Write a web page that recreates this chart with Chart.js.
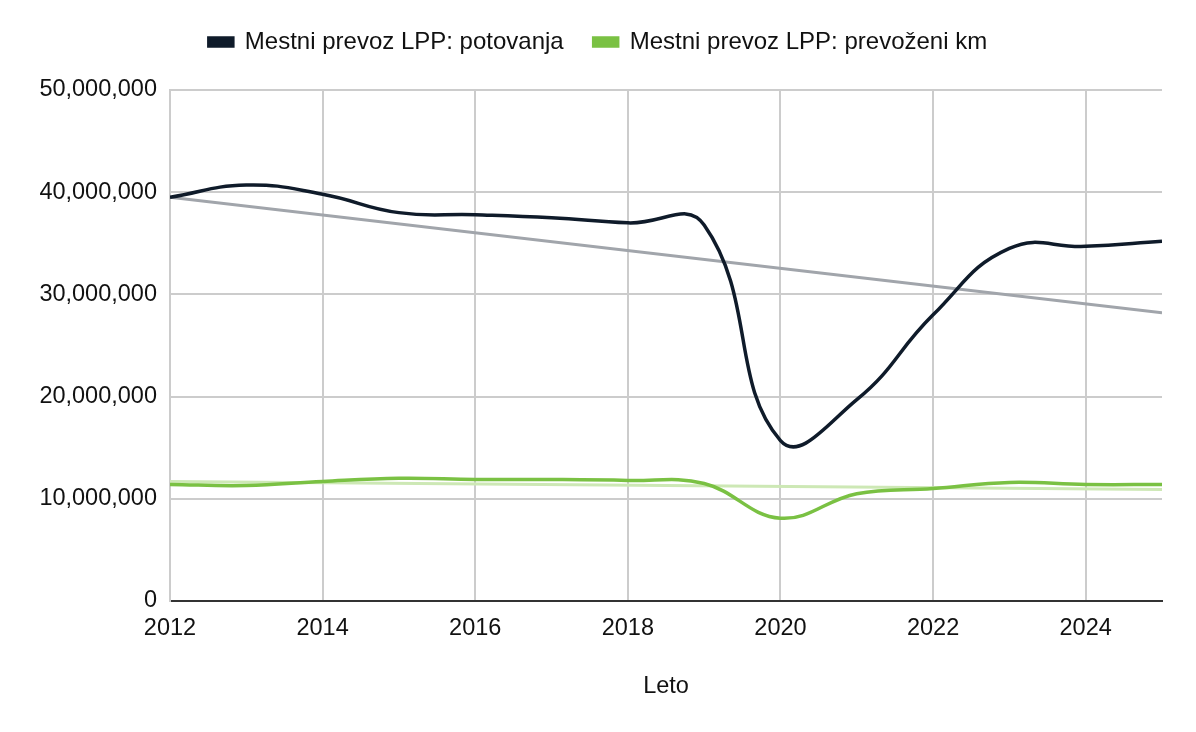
<!DOCTYPE html>
<html>
<head>
<meta charset="utf-8">
<script src="https://cdn.jsdelivr.net/npm/chart.js@4"></script>
<style>
  html, body { margin: 0; padding: 0; background: #fff; }
  #wrap { width: 1196px; height: 732px; }
</style>
</head>
<body>
<div id="wrap"><canvas id="plot" width="1196" height="732"></canvas></div>
<script>
// data
const years = [2012, 2013, 2014, 2015, 2016, 2017, 2018, 2019, 2020, 2021, 2022, 2023, 2024, 2025];
const trips = [39.5, 40.7, 39.8, 38.0, 37.8, 37.5, 37.0, 36.8, 15.7, 19.7, 28.0, 34.5, 34.7, 35.2].map(v => v * 1e6);
const km = [11.4, 11.3, 11.7, 12.0, 11.9, 11.9, 11.8, 11.5, 8.1, 10.5, 11.0, 11.6, 11.4, 11.4].map(v => v * 1e6);
// trend lines (endpoints as seen on the chart)
const trendYears = [2012, 2025];
const tripsTrend = [39.5e6, 28.2e6];
const kmTrend = [11.7e6, 10.9e6];
const xTicks = [2012, 2014, 2016, 2018, 2020, 2022, 2024];
const labels = ['Mestni prevoz LPP: potovanja', 'Mestni prevoz LPP: prevoženi km'];

const font = "Arial, 'Liberation Sans', Helvetica, sans-serif";

function pts(xs, ys) {
  return xs.map((x, i) => ({ x: x, y: ys[i] }));
}

var datasets = [
  {
    label: labels[0],
    data: pts(years, trips),
    borderColor: '#0f1b2a',
    backgroundColor: '#0f1b2a',
    borderWidth: 3.5,
    tension: 0.45,
    pointRadius: 0,
    order: 1
  },
  {
    label: labels[1],
    data: pts(years, km),
    borderColor: '#7ac143',
    backgroundColor: '#7ac143',
    borderWidth: 3.5,
    tension: 0.4,
    pointRadius: 0,
    order: 2
  },
  {
    label: 'trend1',
    data: pts(trendYears, tripsTrend),
    borderColor: '#a1a5ab',
    borderWidth: 3,
    pointRadius: 0,
    order: 3
  },
  {
    label: 'trend2',
    data: pts(trendYears, kmTrend),
    borderColor: '#cde8b5',
    borderWidth: 3,
    pointRadius: 0,
    order: 4
  }
];

// push the plot down below the legend, and center the legend on the whole canvas
const legendGap = {
  id: 'legendGap',
  beforeInit(chart) {
    const fit = chart.legend.fit;
    chart.legend.fit = function () {
      fit.bind(chart.legend)();
      this.height += 26;
    };
  },
  beforeDraw(chart) {
    chart.legend.left = 0;
    chart.legend.right = chart.width;
  }
};

const config = {
  type: 'line',
  data: { datasets: datasets },
  options: {
    responsive: false,
    animation: false,
    layout: { padding: { left: 0, right: 34, top: 0, bottom: 0 } },
    plugins: {
      legend: {
        position: 'top',
        labels: {
          filter: item => item.text.indexOf('trend') !== 0,
          boxWidth: 24,
          boxHeight: 8,
          padding: 30,
          color: '#111',
          font: { family: font, size: 24 }
        }
      },
      tooltip: { enabled: false }
    },
    scales: {
      x: {
        type: 'linear',
        min: 2012,
        max: 2025,
        afterBuildTicks: axis => { axis.ticks = xTicks.map(v => ({ value: v })); },
        afterFit: scale => { scale.height = 131; },
        ticks: {
          callback: v => String(v),
          color: '#111',
          padding: 13,
          maxRotation: 0,
          font: { family: font, size: 23.5 }
        },
        grid: { color: '#cccccc', lineWidth: 2, drawTicks: false },
        border: { color: '#333333', width: 2 },
        title: {
          display: true,
          text: 'Leto',
          color: '#111',
          padding: { top: 10, bottom: 31 },
          font: { family: font, size: 23.5 }
        }
      },
      y: {
        min: 0,
        max: 50000000,
        ticks: {
          stepSize: 10000000,
          callback: v => v.toLocaleString('en-US'),
          color: '#111',
          padding: 13,
          font: { family: font, size: 23.5 }
        },
        afterFit: scale => { scale.width = 170; },
        grid: { color: '#cccccc', lineWidth: 2, drawTicks: false },
        border: { color: '#cccccc', width: 2 }
      }
    }
  },
  plugins: [legendGap]
};

new Chart(document.getElementById('plot').getContext('2d'), config);
</script>
</body>
</html>
